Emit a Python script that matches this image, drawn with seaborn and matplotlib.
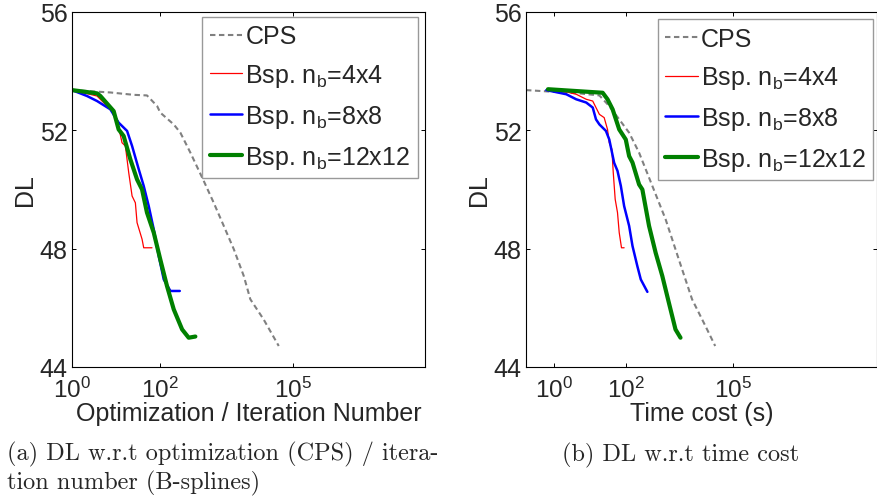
import numpy as np
import pandas as pd
import matplotlib
matplotlib.use("Agg")
import matplotlib.pyplot as plt
import seaborn as sns
from matplotlib.ticker import FixedLocator, FuncFormatter, NullLocator

# ---------------- data ----------------
# (a) DL vs optimization / iteration number
cps_iter_x = [1, 7.4, 25, 50, 85, 100, 202, 286, 480, 967, 1630, 2750, 4650, 7800, 11000, 22000, 48500]
cps_iter_y = [53.36, 53.28, 53.2, 53.18, 52.82, 52.6, 52.2, 51.92, 51.25, 50.29, 49.55, 48.77, 47.98, 47.08, 46.29, 45.61, 44.71]

bsp4_iter_x = [1, 3.7, 7.4, 10.5, 13.6, 16.2, 19.3, 23, 27.3, 29.8, 38.7, 42.2, 65]
bsp4_iter_y = [53.36, 53.16, 52.71, 52.37, 51.58, 51.47, 50.57, 49.78, 49.55, 48.88, 48.32, 48.03, 48.03]

bsp8_iter_x = [1, 2.19, 3.7, 7.4, 11.4, 17.7, 23, 32.6, 42.2, 54.8, 71.3, 92.5, 120, 170, 277]
bsp8_iter_y = [53.36, 53.16, 52.99, 52.71, 52.26, 51.98, 51.47, 50.68, 50.12, 49.44, 48.65, 47.75, 46.96, 46.57, 46.57]

bsp12_iter_x = [1, 3.7, 4.4, 8.8, 11.4, 14.8, 21, 29.8, 38.7, 50, 71.3, 100, 142, 202, 313, 441, 625]
bsp12_iter_y = [53.36, 53.25, 53.16, 52.65, 52.03, 51.81, 51.02, 50.34, 50.0, 49.22, 48.54, 47.64, 46.74, 45.95, 45.27, 44.99, 45.03]

# (b) DL vs time cost (s)
cps_time_x = [0.166, 5, 18.4, 34.7, 65.7, 124, 234, 550, 1290, 3000, 7030, 16500, 31000]
cps_time_y = [53.36, 53.25, 53.18, 52.82, 52.37, 51.92, 51.25, 50.12, 48.99, 47.64, 46.29, 45.39, 44.71]

bsp4_time_x = [0.8, 2.2, 4.15, 7.9, 12, 18.4, 25, 31, 34.7, 41, 44.8, 50.7, 58.8, 65.7, 76, 90]
bsp4_time_y = [53.36, 53.3, 53.22, 53.05, 52.99, 52.54, 52.43, 52.03, 51.58, 51.36, 50.57, 49.67, 49.22, 48.54, 48.03, 48.03]

bsp8_time_x = [0.61, 2.2, 4.15, 7.9, 12, 14.8, 18.4, 28, 34.7, 47.5, 58.8, 72.9, 90, 124, 154, 210, 262, 400]
bsp8_time_y = [53.36, 53.22, 53.05, 52.94, 52.77, 52.37, 52.2, 51.98, 51.69, 50.9, 50.63, 50.12, 49.44, 48.77, 48.09, 47.41, 46.96, 46.54]

bsp12_time_x = [0.68, 22.7, 31, 43, 65.7, 100, 124, 154, 235, 290, 445, 680, 1040, 1590, 2430, 3350]
bsp12_time_y = [53.39, 53.27, 53.05, 52.71, 52.03, 51.69, 51.13, 50.91, 50.17, 50.0, 48.77, 47.86, 47.08, 46.17, 45.27, 44.99]

series_labels = ["CPS", r"Bsp. n$_\mathrm{b}$=4x4", r"Bsp. n$_\mathrm{b}$=8x8", r"Bsp. n$_\mathrm{b}$=12x12"]
y_ticks = [44, 48, 52, 56]
x_ticks = [1, 100, 100000]
xlabels = ["Optimization / Iteration Number", "Time cost (s)"]
ylabel = "DL"
captions = ["(a) DL w.r.t optimization (CPS) / itera-\ntion number (B-splines)", "(b) DL w.r.t time cost"]

# ---------------- style ----------------
sns.set_theme(style="white")
plt.rcParams["font.family"] = ["Liberation Sans", "DejaVu Sans"]
plt.rcParams["mathtext.fontset"] = "custom"
plt.rcParams["mathtext.rm"] = "Liberation Sans"
plt.rcParams["mathtext.it"] = "Liberation Sans:italic"
plt.rcParams["mathtext.bf"] = "Liberation Sans:bold"

colors = [(0.5, 0.5, 0.5), (1, 0, 0), (0, 0, 1), (0, 0.5, 0)]
widths = [1.5, 0.9, 1.8, 3.0]
styles = [(0, (2.6, 1.7)), "-", "-", "-"]

fig = plt.figure(figsize=(8.78, 5.02), dpi=100)
axL = fig.add_axes([72 / 878, 1 - 368 / 502, 353 / 878, 355 / 502])
axR = fig.add_axes([526 / 878, 1 - 368 / 502, 351 / 878, 355 / 502])

data_sets = [
    [(cps_iter_x, cps_iter_y), (bsp4_iter_x, bsp4_iter_y), (bsp8_iter_x, bsp8_iter_y), (bsp12_iter_x, bsp12_iter_y)],
    [(cps_time_x, cps_time_y), (bsp4_time_x, bsp4_time_y), (bsp8_time_x, bsp8_time_y), (bsp12_time_x, bsp12_time_y)],
]
xlims = [(1, 1e8), (10 ** -0.78, 1e9)]
legend_anchor = [(0.980, 0.986), (0.989, 0.980)]


def fmt(v, pos):
    e = int(round(np.log10(v)))
    return r"$\mathdefault{10^{%d}}$" % e


for i, ax in enumerate([axL, axR]):
    for j, (xs, ys) in enumerate(data_sets[i]):
        df = pd.DataFrame({"x": xs, "y": ys})
        sns.lineplot(data=df, x="x", y="y", ax=ax, sort=False, estimator=None,
                     color=colors[j], linewidth=widths[j], linestyle=styles[j],
                     label=series_labels[j])
    ax.set_xscale("log")
    ax.set_xlim(*xlims[i])
    ax.set_ylim(44, 56)
    ax.xaxis.set_major_locator(FixedLocator(x_ticks))
    ax.xaxis.set_minor_locator(NullLocator())
    ax.xaxis.set_major_formatter(FuncFormatter(fmt))
    ax.set_yticks(y_ticks)
    ax.set_yticklabels([str(t) for t in y_ticks])
    ax.tick_params(axis="both", which="both", direction="in", length=3,
                   width=0.7, color="black", top=True, right=True,
                   bottom=True, left=True)
    ax.tick_params(axis="y", labelsize=18, pad=3)
    ax.tick_params(axis="x", labelsize=17.5, pad=7)
    for s in ax.spines.values():
        s.set_color("black")
        s.set_linewidth(0.8)
    ax.set_xlabel(xlabels[i], fontsize=18, labelpad=-1)
    ax.set_ylabel(ylabel, fontsize=18, labelpad=2)
    leg = ax.legend(loc="upper right", bbox_to_anchor=legend_anchor[i],
                    borderaxespad=0, fontsize=18, frameon=True, fancybox=False,
                    framealpha=1, edgecolor=(0.6, 0.6, 0.6), handlelength=1.3,
                    handletextpad=0.12, labelspacing=0.55, borderpad=0.3)
    leg.get_frame().set_linewidth(1.0)

fig.text(7 / 878, 1 - 442 / 502, captions[0], family="cmr10", fontsize=17.5,
         va="top", ha="left", linespacing=1.2)
fig.text(681 / 878, 1 - 443 / 502, captions[1], family="cmr10", fontsize=17.5,
         va="top", ha="center")

fig.savefig("out.png", dpi=100)
